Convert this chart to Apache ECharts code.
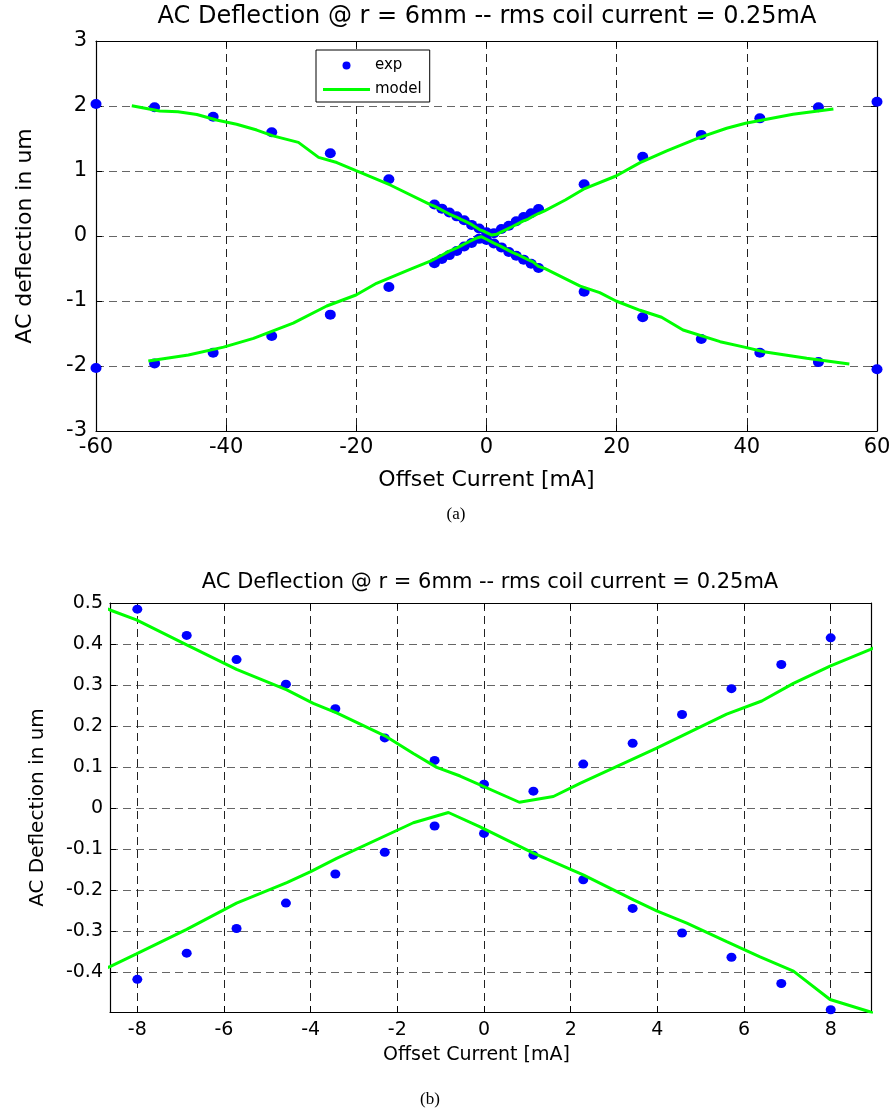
<!DOCTYPE html>
<html><head><meta charset="utf-8">
<script src="https://cdn.jsdelivr.net/npm/echarts@6/dist/echarts.min.js"></script>
<style>html,body{margin:0;padding:0;background:#fff;} #c{width:894px;height:1113px;}</style>
</head><body><div id="c"></div>
<script>
// ---- text ----
const titleText = 'AC Deflection @ r = 6mm -- rms coil current = 0.25mA';
const xLabelText = 'Offset Current [mA]';
const yLabelA = 'AC deflection in um';
const yLabelB = 'AC Deflection in um';
const captionA = '(a)';
const captionB = '(b)';
const legendNames = ['exp', 'model'];

// ---- measured points (exp) ----
const expX     = [-60, -51, -42, -33, -24, -15, -8, -6.86, -5.71, -4.57, -3.43, -2.29, -1.14, 0, 1.14, 2.29, 3.43, 4.57, 5.71, 6.86, 8, 15, 24, 33, 42, 51, 60];
const expUpper = [2.03, 1.98, 1.835, 1.595, 1.272, 0.872, 0.485, 0.421, 0.362, 0.302, 0.242, 0.171, 0.116, 0.058, 0.041, 0.107, 0.158, 0.228, 0.291, 0.350, 0.415, 0.795, 1.22, 1.554, 1.81, 1.98, 2.066];
const expLower = [-2.03, -1.96, -1.795, -1.538, -1.21, -0.785, -0.418, -0.354, -0.294, -0.232, -0.161, -0.108, -0.044, -0.062, -0.115, -0.175, -0.245, -0.305, -0.364, -0.428, -0.492, -0.857, -1.25, -1.585, -1.795, -1.94, -2.05];

// ---- model curves ----
const modelUpperX = [-54.5, -50.2, -47.4, -44.5, -41.5, -38.4, -35.3, -32.8, -28.9, -25.8, -23.0, -20.05, -14.8, -8.63, -8.02, -6.86, -5.71, -4.55, -3.94, -3.40, -2.25, -1.63, -1.09, -0.55, 0.815, 1.6, 2.215, 3.985, 5.6, 6.41, 7.14, 7.985, 8.92, 12.1, 14.9, 19.9, 23.6, 27.7, 32.8, 36.9, 39.8, 47.1, 53.3];
const modelUpperY = [2.005, 1.923, 1.91, 1.87, 1.785, 1.72, 1.63, 1.54, 1.44, 1.21, 1.13, 1.005, 0.785, 0.483, 0.459, 0.398, 0.338, 0.288, 0.255, 0.232, 0.174, 0.133, 0.099, 0.078, 0.014, 0.028, 0.060, 0.146, 0.229, 0.261, 0.304, 0.346, 0.387, 0.554, 0.72, 0.923, 1.128, 1.31, 1.518, 1.657, 1.734, 1.872, 1.954];
const modelLowerX = [-51.96, -45.8, -40.4, -35.8, -29.7, -24.55, -20.05, -16.9, -11.75, -8.63, -8.02, -6.86, -5.71, -4.55, -4.0, -3.4, -1.63, -0.82, -0.09, 1.14, 2.29, 3.45, 3.985, 4.68, 5.6, 6.37, 7.14, 7.985, 8.92, 14.4, 17.4, 19.9, 23.6, 26.9, 30.2, 35.9, 39.8, 42.6, 49.2, 55.75];
const modelLowerY = [-1.923, -1.83, -1.71, -1.575, -1.34, -1.077, -0.908, -0.728, -0.512, -0.387, -0.356, -0.296, -0.232, -0.182, -0.155, -0.123, -0.036, -0.011, -0.046, -0.11, -0.163, -0.224, -0.251, -0.281, -0.326, -0.363, -0.398, -0.467, -0.4976, -0.77, -0.872, -1.0, -1.143, -1.25, -1.446, -1.626, -1.713, -1.78, -1.88, -1.97];

// ---- axis ranges ----
const xRangeA = [-60, 60], xStepA = 20;
const yRangeA = [-3, 3], yStepA = 1;
const xRangeB = [-8.63, 8.93];
const yRangeB = [-0.4976, 0.5];

const zip = (xs, ys) => xs.map((x, i) => [x, ys[i]]);
const inB = p => p[0] >= xRangeB[0] && p[0] <= xRangeB[1];

const FONT = 'DejaVu Sans';
const BLUE = '#0000ff', GREEN = '#00ff00';

function axisCommon(extra) {
  return Object.assign({
    type: 'value',
    axisLine: { show: true, onZero: false, lineStyle: { color: '#000', width: 1.2 } },
    axisTick: { show: true, inside: true, length: 6, lineStyle: { color: '#000', width: 1 } },
    axisLabel: { show: false },
    splitLine: { show: false }
  }, extra);
}

function mainX(grid, range, step, fs, margin, nameGap, namePad, nameFs, extraLabel, split) {
  const o = axisCommon({
    gridIndex: grid, position: 'bottom', min: range[0], max: range[1],
    axisLabel: Object.assign({ show: true, color: '#000', fontFamily: FONT, fontSize: fs, margin: margin }, extraLabel || {}),
    splitLine: { show: true, lineStyle: { color: '#222', width: 1, type: [8, 5] } },
    name: xLabelText, nameLocation: 'middle', nameGap: nameGap,
    nameTextStyle: { color: '#000', fontFamily: FONT, fontSize: nameFs, padding: namePad }
  });
  if (step) o.interval = step; else o.splitNumber = split;
  return o;
}
function mainY(grid, range, step, fs, margin, nameGap, name, nameFs, extraLabel, split) {
  const o = axisCommon({
    gridIndex: grid, position: 'left', min: range[0], max: range[1],
    axisLabel: Object.assign({ show: true, color: '#000', fontFamily: FONT, fontSize: fs, margin: margin }, extraLabel || {}),
    splitLine: { show: true, lineStyle: { color: '#666', width: 1, type: [8, 5] } },
    name: name, nameLocation: 'middle', nameGap: nameGap, nameRotate: 90,
    nameTextStyle: { color: '#000', fontFamily: FONT, fontSize: nameFs }
  });
  if (step) o.interval = step; else o.splitNumber = split;
  return o;
}
function mirror(grid, pos, range, step, split) {
  const o = axisCommon({ gridIndex: grid, position: pos, min: range[0], max: range[1] });
  if (step) o.interval = step; else o.splitNumber = split;
  return o;
}

const dotStyle = { color: BLUE, opacity: 1 };

const option = {
  animation: false,
  backgroundColor: '#fff',
  title: [
    { text: titleText, left: 487, top: 5, textAlign: 'center', padding: 0,
      textStyle: { fontFamily: FONT, fontSize: 24, fontWeight: 'normal', color: '#000' } },
    { text: titleText, left: 490, top: 572, textAlign: 'center', padding: 0,
      textStyle: { fontFamily: FONT, fontSize: 21, fontWeight: 'normal', color: '#000' } },
    { text: captionA, left: 456, top: 506, textAlign: 'center', padding: 0,
      textStyle: { fontFamily: 'Liberation Serif', fontSize: 17, fontWeight: 'normal', color: '#000' } },
    { text: captionB, left: 430, top: 1091, textAlign: 'center', padding: 0,
      textStyle: { fontFamily: 'Liberation Serif', fontSize: 17, fontWeight: 'normal', color: '#000' } }
  ],
  legend: {
    data: [
      { name: legendNames[0], icon: 'circle' },
      { name: legendNames[1], icon: 'path://M0,0L47,0L47,3L0,3Z' }
    ],
    orient: 'vertical', left: 316, top: 50,
    itemWidth: 47, itemHeight: 8, itemGap: 7, padding: [7, 8, 4, 7],
    symbolKeepAspect: true,
    borderColor: '#000', borderWidth: 1, borderRadius: 0, backgroundColor: '#fff',
    selectedMode: false,
    textStyle: { fontFamily: FONT, fontSize: 15, color: '#000', lineHeight: 17 }
  },
  grid: [
    { left: 96, top: 41, width: 781, height: 390 },
    { left: 110, top: 603, width: 761, height: 409 }
  ],
  xAxis: [
    mainX(0, xRangeA, xStepA, 21, 6, 38, 0, 22),
    mirror(0, 'top', xRangeA, xStepA),
    mainX(1, xRangeB, null, 19, 9, 34, [0, 28, 0, 0], 19, { showMinLabel: false, showMaxLabel: false }, 9),
    mirror(1, 'top', xRangeB, null, 9)
  ],
  yAxis: [
    mainY(0, yRangeA, yStepA, 21, 9, 60, yLabelA, 22),
    mirror(0, 'right', yRangeA, yStepA),
    mainY(1, yRangeB, null, 19, 7, 62, yLabelB, 20, { showMinLabel: false }, 10),
    mirror(1, 'right', yRangeB, null, 10)
  ],
  series: [
    { name: 'exp', type: 'scatter', xAxisIndex: 0, yAxisIndex: 0, symbol: 'circle', symbolSize: [11, 10], clip: false,
      itemStyle: dotStyle, data: zip(expX, expUpper) },
    { name: 'exp', type: 'scatter', xAxisIndex: 0, yAxisIndex: 0, symbol: 'circle', symbolSize: [11, 10], clip: false,
      itemStyle: dotStyle, data: zip(expX, expLower) },
    { name: 'model', type: 'line', xAxisIndex: 0, yAxisIndex: 0, symbol: 'none', clip: true,
      lineStyle: { color: GREEN, width: 3 }, itemStyle: { color: GREEN }, data: zip(modelUpperX, modelUpperY) },
    { name: 'model', type: 'line', xAxisIndex: 0, yAxisIndex: 0, symbol: 'none', clip: true,
      lineStyle: { color: GREEN, width: 3 }, itemStyle: { color: GREEN }, data: zip(modelLowerX, modelLowerY) },

    { name: 'exp', type: 'scatter', xAxisIndex: 2, yAxisIndex: 2, symbol: 'circle', symbolSize: [10, 9], clip: false,
      itemStyle: dotStyle, data: zip(expX, expUpper).filter(inB) },
    { name: 'exp', type: 'scatter', xAxisIndex: 2, yAxisIndex: 2, symbol: 'circle', symbolSize: [10, 9], clip: false,
      itemStyle: dotStyle, data: zip(expX, expLower).filter(inB) },
    { name: 'model', type: 'line', xAxisIndex: 2, yAxisIndex: 2, symbol: 'none', clip: true,
      lineStyle: { color: GREEN, width: 3 }, itemStyle: { color: GREEN }, data: zip(modelUpperX, modelUpperY) },
    { name: 'model', type: 'line', xAxisIndex: 2, yAxisIndex: 2, symbol: 'none', clip: true,
      lineStyle: { color: GREEN, width: 3 }, itemStyle: { color: GREEN }, data: zip(modelLowerX, modelLowerY) }
  ]
};

const chart = echarts.init(document.getElementById('c'), null, { renderer: 'canvas' });
chart.setOption(option);
</script>
</body></html>
